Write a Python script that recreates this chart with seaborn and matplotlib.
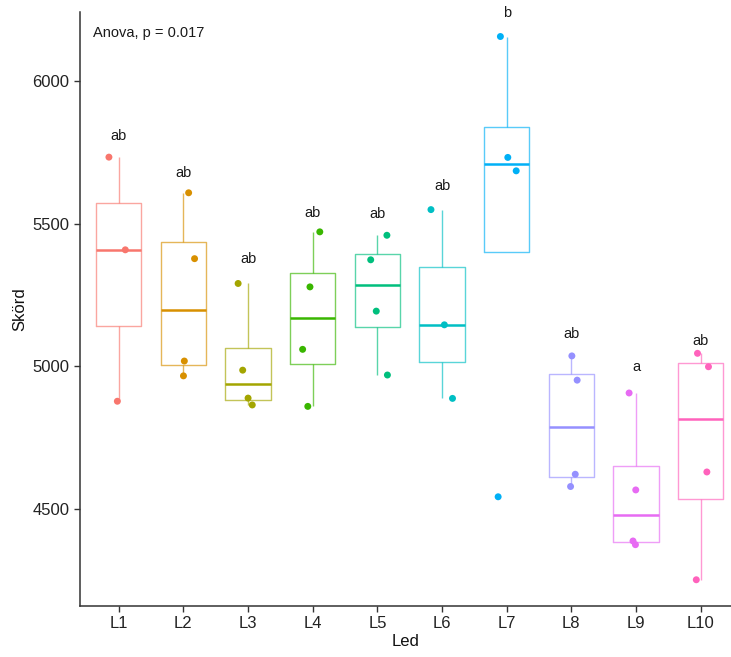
import numpy as np
import pandas as pd
import matplotlib
matplotlib.use("Agg")
import matplotlib.pyplot as plt
import seaborn as sns

# ---- data ----
groups = ["L1", "L2", "L3", "L4", "L5", "L6", "L7", "L8", "L9", "L10"]
L1 = [5733, 5408, 4877]
L2 = [5608, 5377, 5018, 4966]
L3 = [5290, 4986, 4888, 4864]
L4 = [5471, 5278, 5059, 4859]
L5 = [5459, 5373, 5193, 4969]
L6 = [5549, 5145, 4887]
L7 = [6156, 5732, 5685, 4542]
L8 = [5036, 4951, 4621, 4578]
L9 = [4906, 4566, 4387, 4374]
L10 = [5045, 4998, 4629, 4251]
letters = ["ab", "ab", "ab", "ab", "ab", "ab", "b", "ab", "a", "ab"]
letter_y = [5806, 5679, 5376, 5538, 5534, 5631, 6239, 5113, 4998, 5088]
anova_text = "Anova, p = 0.017"
colors = ["#F8766D", "#D89000", "#A3A500", "#39B600", "#00BF7D",
          "#00BFC4", "#00B0F6", "#9590FF", "#E76BF3", "#FF62BC"]

values = [L1, L2, L3, L4, L5, L6, L7, L8, L9, L10]
df = pd.DataFrame({
    "Led": [g for g, v in zip(groups, values) for _ in v],
    "Skörd": [x for v in values for x in v],
})
df["Led"] = pd.Categorical(df["Led"], categories=groups, ordered=True)

sns.set_style("white")
plt.rcParams["font.family"] = ["Liberation Sans", "DejaVu Sans"]

fig = plt.figure(figsize=(7.31, 6.57), dpi=100)
ax = fig.add_axes([80 / 731, 51 / 657, 651 / 731, 594.3 / 657])

pal = dict(zip(groups, colors))
sns.boxplot(data=df, x="Led", y="Skörd", hue="Led", palette=pal, order=groups,
            hue_order=groups, fill=False, showfliers=False, showcaps=False,
            width=0.7, linewidth=1.0, whis=1.5, legend=False, dodge=False,
            medianprops={"linewidth": 1.8}, ax=ax)

for cont in ax.containers:
    try:
        for b in cont.boxes:
            b.set_alpha(0.65)
        for w in cont.whiskers:
            w.set_alpha(0.65)
    except AttributeError:
        pass

np.random.seed(7)
sns.stripplot(data=df, x="Led", y="Skörd", hue="Led", palette=pal, order=groups,
              hue_order=groups, jitter=0.18, size=5, linewidth=0,
              legend=False, dodge=False, ax=ax, zorder=5)

for i, (lab, yv) in enumerate(zip(letters, letter_y)):
    ax.text(i, yv, lab, ha="center", va="center", fontsize=10.5, color="#1a1a1a")

ax.text(0.02, 0.964, anova_text, transform=ax.transAxes, ha="left", va="center",
        fontsize=10.5, color="#1a1a1a")

ax.set_xlim(-0.6, 9.47)
ax.set_ylim(4159, 6243)
ax.set_yticks([4500, 5000, 5500, 6000])
ax.set_yticklabels(["4500", "5000", "5500", "6000"])

for s in ["top", "right"]:
    ax.spines[s].set_visible(False)
for s in ["left", "bottom"]:
    ax.spines[s].set_color("#333333")
    ax.spines[s].set_linewidth(1.1)

ax.tick_params(axis="both", which="major", length=4, width=1, color="#333333",
               labelsize=12, labelcolor="#222222", direction="out",
               left=True, bottom=True)
ax.set_xlabel("Led", fontsize=12, color="#111111", labelpad=2)
ax.set_ylabel("Skörd", fontsize=12, color="#111111", labelpad=4)

fig.savefig("out.png", dpi=100)
